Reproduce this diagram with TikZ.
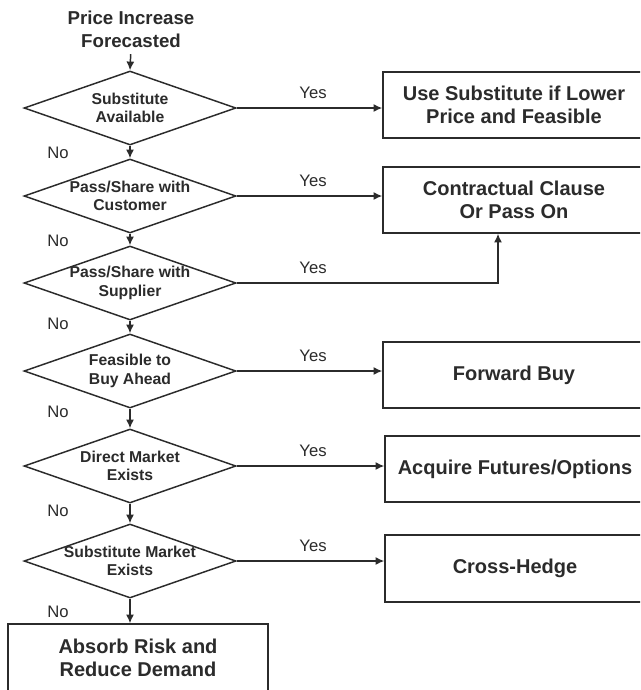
\documentclass[tikz,border=0pt]{standalone}
\usepackage{fontspec}
\setmainfont{Liberation Sans}
\usetikzlibrary{shapes.geometric,arrows.meta}
\definecolor{ink}{HTML}{2B2B2B}
\begin{document}
\begin{tikzpicture}[x=0.75pt,y=-0.75pt,
  line/.style={draw=ink, line width=1.1pt},
  arr/.style={line, -{Latex[length=6.5pt,width=6pt]}},
  dia/.style={diamond, draw=ink, line width=1.1pt, minimum width=159pt, minimum height=55.5pt, inner sep=0pt},
  dtext/.style={text=ink, font=\bfseries\fontsize{11.8}{14}\selectfont, align=center, inner sep=0pt},
  box/.style={rectangle, draw=ink, line width=1.1pt, minimum width=196.5pt, minimum height=49.5pt, inner sep=0pt, text=ink, font=\bfseries\fontsize{15}{17}\selectfont, align=center},
  lab/.style={text=ink, font=\fontsize{12.5}{14}\selectfont, inner sep=0pt}]
\clip (0,0) rectangle (640,690);
\fill[white] (0,0) rectangle (640,690);

% title
\node[text=ink, font=\bfseries\fontsize{14}{17}\selectfont, align=center, inner sep=0pt] (title) at (131,29) {Price Increase\\Forecasted};

% diamonds
\node[dia] (d1) at (130,108) {};
\node[dia] (d2) at (130,196) {};
\node[dia] (d3) at (130,283) {};
\node[dia] (d4) at (130,371) {};
\node[dia] (d5) at (130,466) {};
\node[dia] (d6) at (130,561) {};
\node[dtext] (t1) at (d1.center) {Substitute\\Available};
\node[dtext] (t2) at (d2.center) {Pass/Share with\\Customer};
\node[dtext] (t3) at (d3.center) {Pass/Share with\\Supplier};
\node[dtext] (t4) at (d4.center) {Feasible to\\Buy Ahead};
\node[dtext] (t5) at (d5.center) {Direct Market\\Exists};
\node[dtext] (t6) at (d6.center) {Substitute Market\\Exists};

% boxes
\node[box] (b1) at (514,105) {Use Substitute if Lower\\Price and Feasible};
\node[box] (b2) at (514,200) {Contractual Clause\\Or Pass On};
\node[box] (b3) at (514,375) {Forward Buy};
\node[box, minimum width=195pt] (b4) at (515,469) {Acquire Futures/Options};
\node[box, minimum width=195pt, minimum height=50pt] (b5) at (515,568.5) {Cross-Hedge};
\node[box, minimum width=195pt, minimum height=51pt] (b6) at (138,658) {Absorb Risk and\\Reduce Demand};

% vertical arrows
\draw[arr, shorten <=5pt] (title.south) -- (d1.north);
\draw[arr] (d1.south) -- (d2.north);
\draw[arr] (d2.south) -- (d3.north);
\draw[arr] (d3.south) -- (d4.north);
\draw[arr] (d4.south) -- (d5.north);
\draw[arr] (d5.south) -- (d6.north);
\draw[arr] (d6.south) -- (d6.south |- b6.north);

% yes arrows
\draw[arr] (d1.east) -- (b1.west |- d1.east);
\draw[arr] (d2.east) -- (b2.west |- d2.east);
\coordinate (k) at (498,283);
\draw[arr] (d3.east) -- (k) -- (k |- b2.south);
\draw[arr] (d4.east) -- (b3.west |- d4.east);
\draw[arr] (d5.east) -- (b4.west |- d5.east);
\draw[arr] (d6.east) -- (b5.west |- d6.east);

% labels
\node[lab] (y1) at (313,93) {Yes};
\node[lab] (y2) at (313,181) {Yes};
\node[lab] (y3) at (313,268) {Yes};
\node[lab] (y4) at (313,356) {Yes};
\node[lab] (y5) at (313,451) {Yes};
\node[lab] (y6) at (313,546) {Yes};
\node[lab] (n1) at (58,153) {No};
\node[lab] (n2) at (58,241) {No};
\node[lab] (n3) at (58,324) {No};
\node[lab] (n4) at (58,412) {No};
\node[lab] (n5) at (58,511) {No};
\node[lab] (n6) at (58,612) {No};
\end{tikzpicture}
\end{document}
